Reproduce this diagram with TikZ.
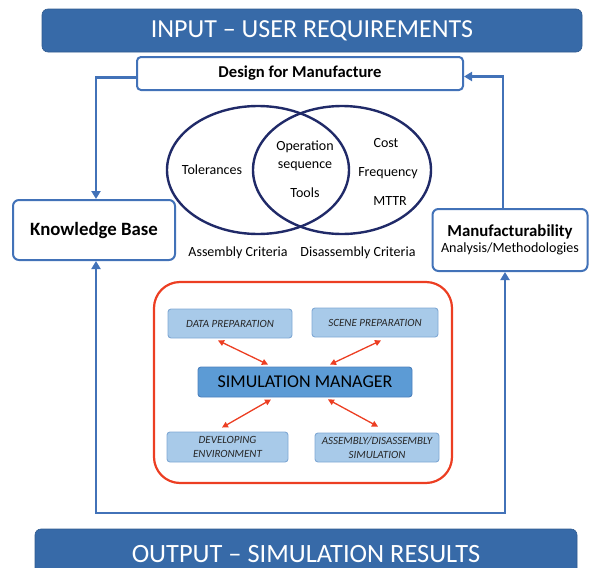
\documentclass[tikz,border=0pt]{standalone}
\usepackage{fontspec}
\setmainfont{Carlito}
\usetikzlibrary{arrows.meta,shapes.geometric}
\definecolor{banner}{RGB}{55,106,168}
\definecolor{bline}{RGB}{66,114,184}
\definecolor{navy}{RGB}{32,42,104}
\definecolor{redl}{RGB}{236,62,34}
\definecolor{lbfill}{RGB}{168,202,233}
\definecolor{lbdraw}{RGB}{128,168,212}
\definecolor{smfill}{RGB}{92,155,213}
\definecolor{smdraw}{RGB}{76,128,188}
\tikzset{
  x=1pt,y=-1pt,
  bannerbox/.style={fill=banner,draw=banner!85!black,line width=0.6pt,rounded corners=6pt,text=white,font=\fontsize{26}{26}\selectfont,inner sep=0pt},
  whitebox/.style={draw=bline,fill=white,line width=2pt,rounded corners=6pt,inner sep=0pt,align=center},
  bluearrow/.style={draw=bline,line width=2.6pt,-{Triangle[width=9pt,length=8pt]}},
  bluearrows/.style={draw=bline,line width=2.6pt,{Triangle[width=9pt,length=8pt]}-{Triangle[width=9pt,length=8pt]}},
  venn/.style={draw=navy,line width=2.4pt,ellipse,minimum width=182pt,minimum height=128pt,inner sep=0pt},
  vtext/.style={font=\fontsize{14}{16}\selectfont,inner sep=0pt},
  smallbox/.style={fill=lbfill,draw=lbdraw,line width=0.9pt,rounded corners=3pt,inner sep=0pt,align=center,font=\fontsize{11}{14}\selectfont\itshape,text=black!85},
  redarrow/.style={draw=redl,line width=1.3pt,{Triangle[width=6pt,length=6pt]}-{Triangle[width=6pt,length=6pt]}}
}
\begin{document}
\begin{tikzpicture}
\useasboundingbox (0,0) rectangle (590,568);
% banners
\node[bannerbox,minimum width=540pt,minimum height=43pt] (inp) at (312,30.5) {INPUT – USER REQUIREMENTS};
\node[bannerbox,minimum width=542pt,minimum height=50pt,font=\fontsize{26.4}{27}\selectfont] (outp) at (306,554) {OUTPUT – SIMULATION RESULTS};
% main boxes
\node[whitebox,rounded corners=4pt,minimum width=326pt,minimum height=33pt,font=\fontsize{16.6}{18}\selectfont\bfseries] (dfm) at (300,73.5) {Design for Manufacture};
\node[whitebox,minimum width=162pt,minimum height=60pt,font=\fontsize{18.8}{20}\selectfont\bfseries] (kb) at (94,230) {Knowledge Base};
\node[whitebox,minimum width=155pt,minimum height=62pt] (ma) at (510,240) {{\fontsize{16.8}{18}\selectfont\bfseries Manufacturability}\\[3pt]{\fontsize{14.1}{16}\selectfont Analysis/Methodologies}};
% blue connectors
\draw[bluearrow] ([yshift=-4pt]dfm.west) -| ([xshift=2pt]kb.north);
\draw[bluearrow] ([xshift=-7pt]ma.north) |- ([yshift=-3pt]dfm.east);
\coordinate (lb) at (96,513);
\coordinate (rb) at (505,513);
\draw[bluearrows] ([xshift=2pt]kb.south) -- (lb) -- (rb) -- ([xshift=-5pt]ma.south);
% Venn
\node[venn] (asm) at (258,170) {};
\node[venn,minimum width=178pt] (dis) at (342,170) {};
\node[vtext] (tol) at (212,170) {Tolerances};
\node[vtext] (op) at (305,147) {Operation};
\node[vtext] (seq) at (305,166) {sequence};
\node[vtext] (tools) at (305,193) {Tools};
\node[vtext] (cost) at (386,143) {Cost};
\node[vtext] (freq) at (388,173) {Frequency};
\node[vtext] (mttr) at (390,201) {MTTR};
\node[vtext] (ac) at (238,253) {Assembly Criteria};
\node[vtext] (dc) at (358,253) {Disassembly Criteria};
% simulation block
\draw[redl,line width=2.2pt,rounded corners=26pt] (154,282) rectangle (452,483);
\node[smallbox,minimum width=124pt,minimum height=29pt] (dp) at (230,323.5) {DATA PREPARATION};
\node[smallbox,minimum width=126pt,minimum height=29pt] (sp) at (375,322.5) {SCENE PREPARATION};
\node[smallbox,minimum width=121pt,minimum height=30pt] (de) at (227.5,447) {DEVELOPING\\ENVIRONMENT};
\node[smallbox,minimum width=124pt,minimum height=29pt] (as) at (377,447.5) {ASSEMBLY/DISASSEMBLY\\SIMULATION};
\node[fill=smfill,draw=smdraw,line width=0.9pt,rounded corners=3pt,minimum width=214pt,minimum height=30pt,inner sep=0pt,font=\fontsize{18}{20}\selectfont] (sm) at (305,382) {SIMULATION MANAGER};
\draw[redarrow] ([xshift=-12pt,yshift=-2pt]dp.south) -- ([xshift=-37pt,yshift=2pt]sm.north);
\draw[redarrow] ([xshift=6pt,yshift=-3pt]sp.south) -- ([xshift=25pt,yshift=2pt]sm.north);
\draw[redarrow] ([xshift=-34pt,yshift=-2pt]sm.south) -- ([xshift=-5.5pt,yshift=4pt]de.north);
\draw[redarrow] ([xshift=23pt,yshift=-2pt]sm.south) -- ([xshift=1pt,yshift=6pt]as.north);
\end{tikzpicture}
\end{document}
